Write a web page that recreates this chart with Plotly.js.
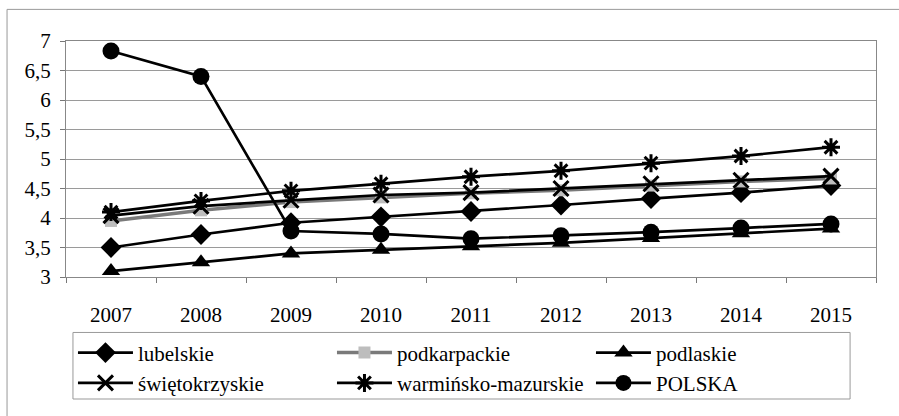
<!DOCTYPE html>
<html>
<head>
<meta charset="utf-8">
<script src="https://cdn.plot.ly/plotly-3.0.1.min.js"></script>
<style>html,body{margin:0;padding:0;background:#fff;}#chart{width:899px;height:416px;}</style>
</head>
<body>
<div id="chart"></div>
<script>
var years = ["2007","2008","2009","2010","2011","2012","2013","2014","2015"];
var lubelskie = [3.50, 3.72, 3.92, 4.02, 4.11, 4.22, 4.33, 4.43, 4.55];
var podkarpackie = [3.95, 4.13, 4.27, 4.35, 4.42, 4.47, 4.55, 4.62, 4.67];
var podlaskie = [3.10, 3.25, 3.40, 3.46, 3.52, 3.58, 3.66, 3.74, 3.82];
var swietokrzyskie = [4.04, 4.20, 4.30, 4.39, 4.43, 4.50, 4.58, 4.64, 4.71];
var warminsko = [4.10, 4.29, 4.46, 4.58, 4.70, 4.80, 4.93, 5.05, 5.20];
var polska = [6.83, 6.40, 3.78, 3.73, 3.65, 3.70, 3.76, 3.83, 3.90];
var yTicks = [3, 3.5, 4, 4.5, 5, 5.5, 6, 6.5, 7];

function tr(name, y, sym, size, lineColor, lineW, mColor, mLine) {
  return {
    type: 'scatter', mode: 'lines+markers', name: name, x: years, y: y,
    line: {color: lineColor, width: lineW},
    marker: {symbol: sym, size: size, color: mColor, line: mLine || {width: 0}}
  };
}
var data = [
  tr('lubelskie', lubelskie, 'diamond', 16, '#000', 2.7, '#000'),
  tr('podkarpackie', podkarpackie, 'square', 12, '#7a7a7a', 3.5, '#bdbdbd'),
  tr('podlaskie', podlaskie, 'triangle-up', 16, '#000', 2.7, '#000'),
  tr('świętokrzyskie', swietokrzyskie, 'x-thin', 15, '#000', 2.7, '#000', {width: 3, color: '#000'}),
  tr('warmińsko-mazurskie', warminsko, 'asterisk', 15, '#000', 2.7, '#000', {width: 3, color: '#000'}),
  tr('POLSKA', polska, 'circle', 17, '#000', 2.7, '#000')
];
var serif = 'Liberation Serif, DejaVu Serif';
var layout = {
  width: 899, height: 416,
  margin: {l: 66, r: 23, t: 41, b: 137},
  paper_bgcolor: '#fff', plot_bgcolor: '#fff',
  separators: ', ',
  font: {family: serif, size: 21, color: '#000'},
  showlegend: true,
  xaxis: {
    type: 'category', range: [-0.5, 8.5], tickson: 'boundaries',
    ticks: 'outside', ticklen: 5, tickcolor: '#777',
    showline: true, linecolor: '#888', linewidth: 1, mirror: true,
    showgrid: false, zeroline: false, fixedrange: true,
    ticklabelstandoff: 19,
    tickfont: {family: serif, size: 21}
  },
  yaxis: {
    range: [3, 7], tickvals: yTicks, tickformat: '.1~f',
    ticks: 'outside', ticklen: 5, tickcolor: '#777',
    showline: true, linecolor: '#888', linewidth: 1, mirror: true,
    showgrid: true, gridcolor: '#9a9a9a', gridwidth: 1,
    zeroline: false, fixedrange: true, ticklabelstandoff: 5,
    tickfont: {family: serif, size: 21}
  },
  legend: {
    orientation: 'h', x: 0.0086, xanchor: 'left', y: -0.235, yanchor: 'top',
    entrywidth: 189, entrywidthmode: 'pixels', itemwidth: 55,
    borderwidth: 0, bgcolor: 'rgba(0,0,0,0)',
    font: {family: serif, size: 21}, traceorder: 'normal'
  },
  shapes: [{
    type: 'rect', xref: 'paper', yref: 'paper',
    x0: -0.0728, x1: 1.05, y0: -0.7, y1: 1.134,
    line: {color: '#999', width: 1}, fillcolor: 'rgba(0,0,0,0)', layer: 'below'
  }, {
    type: 'rect', xref: 'paper', yref: 'paper',
    x0: 0.0086, x1: 0.968, y0: -0.517, y1: -0.235,
    line: {color: '#999', width: 1}, fillcolor: 'rgba(0,0,0,0)', layer: 'below'
  }]
};
Plotly.newPlot('chart', data, layout, {displayModeBar: false, staticPlot: true});
</script>
</body>
</html>
